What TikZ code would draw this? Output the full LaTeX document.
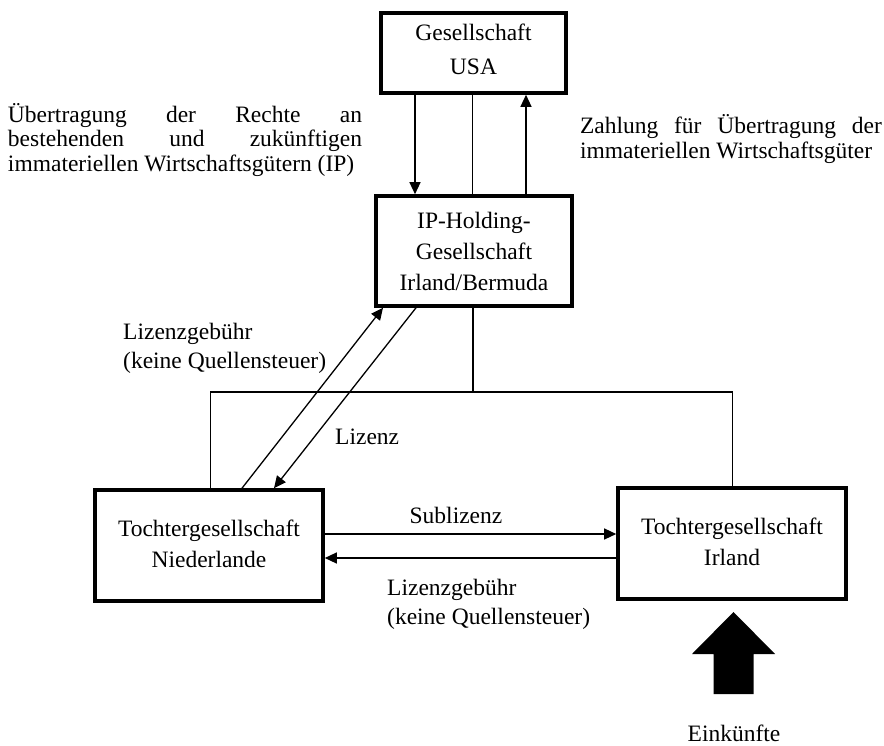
\documentclass[tikz,border=0pt]{standalone}
\usepackage{fontspec}
\setmainfont{Liberation Serif}
\usetikzlibrary{arrows.meta,calc}
\begin{document}
\begin{tikzpicture}[x=1pt,y=-1pt,
  box/.style={draw,line width=3.6pt,inner sep=0pt,align=center,
    font=\fontsize{23.5}{31}\selectfont},
  lbl/.style={inner sep=0pt,font=\fontsize{23.5}{29}\selectfont},
  conn/.style={line width=1.3pt},
  arr/.style={line width=1.3pt,-{Triangle[length=12pt,width=11pt]}}]
\useasboundingbox (0,0) rectangle (884,746);
% boxes
\node[box,minimum width=185,minimum height=80,text depth=7pt] (usa) at (473.5,53) {Gesellschaft\\[3pt]USA};
\node[box,minimum width=196,minimum height=110] (ip) at (474,251) {IP-Holding-\\Gesellschaft\\Irland/Bermuda};
\node[box,minimum width=228,minimum height=111,text depth=4pt] (nl) at (209,545.5) {Tochtergesellschaft\\Niederlande};
\node[box,minimum width=228,minimum height=111,text depth=4pt] (ie) at (732,543.5) {Tochtergesellschaft\\Irland};
% helper x positions
\coordinate (xa) at (415,0);
\coordinate (xb) at (472.5,0);
\coordinate (xc) at (526,0);
\coordinate (hub) at (473,392);
\coordinate (hl) at (210.5,392);
\coordinate (hr) at (732.5,392);
\coordinate (d1s) at (242,0);
\coordinate (d1e) at (383,0);
\coordinate (d2s) at (416,0);
\coordinate (d2e) at (274,0);
% USA - IP
\draw[arr] (usa.south -| xa) -- (ip.north -| xa);
\draw[conn] (usa.south -| xb) -- (ip.north -| xb);
\draw[arr] (ip.north -| xc) -- (usa.south -| xc);
% ownership tree
\draw[conn] (ip.south -| hub) -- (hub);
\draw[conn] (nl.north -| hl) -- (hl) -- (hr) -- (ie.north -| hr);
% diagonal arrows
\draw[arr] (nl.north -| d1s) -- (ip.south -| d1e);
\draw[arr] (ip.south -| d2s) -- (nl.north -| d2e);
% horizontal arrows
\draw[arr] (nl.east |- 0,534) -- (ie.west |- 0,534);
\draw[arr] (ie.west |- 0,558) -- (nl.east |- 0,558);
% labels
\node[lbl,align=left,font=\fontsize{23.5}{24.5}\selectfont] (t1) at (185,140)
  {\makebox[354pt][s]{Übertragung der Rechte an}\\
   \makebox[354pt][s]{bestehenden und zukünftigen}\\
   \makebox[354pt][l]{immateriellen Wirtschaftsgütern (IP)}};
\node[lbl,align=left,font=\fontsize{23.5}{25.5}\selectfont] (t2) at (731,139)
  {\makebox[302pt][s]{Zahlung für Übertragung der}\\
   \makebox[302pt][l]{immateriellen Wirtschaftsgüter}};
\node[lbl,align=left,anchor=west] (t3) at (123,348.5) {Lizenzgebühr\\(keine Quellensteuer)};
\node[lbl,anchor=west] (t4) at (335,437) {Lizenz};
\node[lbl] (t5) at (456,515) {Sublizenz};
\node[lbl,align=left,anchor=west] (t6) at (387,604.5) {Lizenzgebühr\\(keine Quellensteuer)};
% income arrow
\fill (733.5,612) -- (775,654) -- (753.5,654) -- (753.5,694) -- (713.5,694)
  -- (713.5,654) -- (692,654) -- cycle;
\node[lbl] (t7) at (734,733) {Einkünfte};
\end{tikzpicture}
\end{document}
